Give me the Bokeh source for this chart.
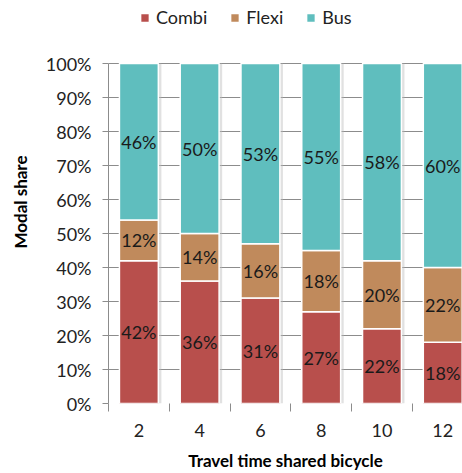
from bokeh.plotting import figure
from bokeh.models import ColumnDataSource, FixedTicker, PrintfTickFormatter, Legend, LegendItem, Range1d
from bokeh.core.properties import value
from bokeh.embed import file_html
from bokeh.resources import INLINE

# Modal share (%) per shared-bicycle travel time
travel_time = [2, 4, 6, 8, 10, 12]
combi = [42, 36, 31, 27, 22, 18]
flexi = [12, 14, 16, 18, 20, 22]
bus = [46, 50, 53, 55, 58, 60]

series = ["Combi", "Flexi", "Bus"]
colors = ["#B84F4C", "#C08A5C", "#5FBEBE"]
FONT = "Lato"
BAR_W = 1.28

# frame runs to the top of the page; the headroom above 100% holds the legend
p = figure(width=462, height=473, output_backend="svg", toolbar_location=None,
           x_range=Range1d(1, 12.65), y_range=Range1d(0, 100 * 403 / 340),
           min_border_left=108, min_border_right=0, min_border_top=0,
           min_border_bottom=70)
p.outline_line_color = None
p.background_fill_color = "white"

# soft drop shadow behind each stacked column
totals = [c + f + b for c, f, b in zip(combi, flexi, bus)]
p.vbar(x=[t + 0.05 for t in travel_time], bottom=0, top=totals, width=BAR_W + 0.1,
       fill_color="#bdbdbd", fill_alpha=0.45, line_color=None)

# stacked bars built from the three series
bottoms = [0] * len(travel_time)
renderers = []
for name, vals, col in zip(series, [combi, flexi, bus], colors):
    tops = [b + v for b, v in zip(bottoms, vals)]
    src = ColumnDataSource(dict(
        x=travel_time, bottom=bottoms, top=tops,
        mid=[(b + t) / 2 for b, t in zip(bottoms, tops)],
        label=[f"{v}%" for v in vals]))
    r = p.vbar(x="x", bottom="bottom", top="top", width=BAR_W, source=src,
               fill_color=col, line_color="white", line_width=1.5)
    renderers.append(r)
    p.text(x="x", y="mid", text="label", source=src, text_align="center",
           text_baseline="middle", text_font=value(FONT), text_font_size="18px",
           text_color="#1a1a1a")
    bottoms = tops

# axes
p.yaxis.ticker = FixedTicker(ticks=list(range(0, 101, 10)))
p.yaxis.formatter = PrintfTickFormatter(format="%d%%")
p.yaxis.bounds = (0, 100)
p.yaxis.axis_label = "Modal share"
p.xaxis.ticker = FixedTicker(ticks=travel_time, minor_ticks=[1, 3, 5, 7, 9, 11, 13])
p.xaxis.axis_label = "Travel time shared bicycle"
for ax in (p.xaxis, p.yaxis):
    ax.major_label_text_font = FONT
    ax.major_label_text_font_size = "18px"
    ax.major_label_text_color = "#222222"
    ax.axis_label_text_font = FONT
    ax.axis_label_text_font_size = "17px"
    ax.axis_label_text_font_style = "bold"
    ax.axis_label_text_color = "#000000"
    ax.axis_line_color = "#8c8c8c"
    ax.minor_tick_line_color = None
p.yaxis.major_tick_line_color = "#8c8c8c"
p.yaxis.major_tick_out = 6
p.yaxis.major_tick_in = 0
p.yaxis.major_label_standoff = 11
p.yaxis.axis_label_standoff = 12
p.xaxis.axis_line_color = None
p.xaxis.major_tick_line_color = None
p.xaxis.minor_tick_line_color = "#8c8c8c"
p.xaxis.minor_tick_out = 8
p.xaxis.minor_tick_in = 0
p.xaxis.major_label_standoff = 12
p.xaxis.axis_label_standoff = 10

p.xgrid.grid_line_color = None
p.ygrid.grid_line_color = "#8c8c8c"
p.ygrid.grid_line_width = 1

legend = Legend(items=[LegendItem(label=s, renderers=[r]) for s, r in zip(series, renderers)],
                orientation="horizontal", location=(31, 375),
                label_text_font=FONT, label_text_font_size="18px",
                label_text_color="#222222", glyph_width=11, glyph_height=11,
                spacing=22, label_standoff=6, padding=0, margin=0,
                border_line_color=None, background_fill_alpha=0)
p.add_layout(legend, "center")

open("out.html", "w").write(file_html(p, INLINE))
